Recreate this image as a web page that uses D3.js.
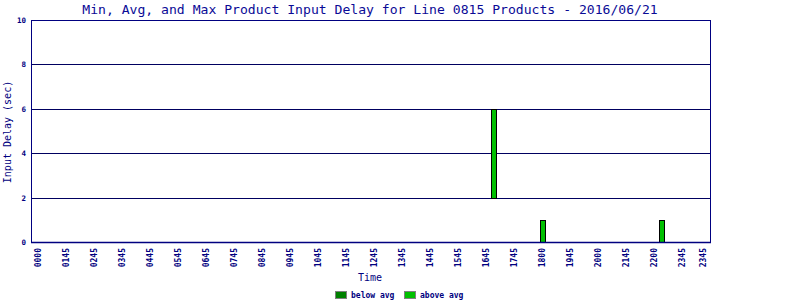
<!DOCTYPE html>
<html>
<head>
<meta charset="utf-8">
<script src="https://cdn.jsdelivr.net/npm/d3@7"></script>
<style>
  html, body { margin: 0; padding: 0; background: #fff; }
  svg { display: block; }
  text { font-family: "DejaVu Sans Mono", "Liberation Mono", monospace; fill: #000080; }
</style>
</head>
<body>
<svg id="chart" width="800" height="300"></svg>
<script>
// ---- data ----
const titleText = "Min, Avg, and Max Product Input Delay for Line 0815 Products - 2016/06/21";
const tickLabels = ["0000","0145","0245","0345","0445","0545","0645","0745","0845","0945",
  "1045","1145","1245","1345","1445","1545","1645","1745","1800","1945","2000","2145","2200","2345","2345"];
const tickHours = [0,1,2,3,4,5,6,7,8,9,10,11,12,13,14,15,16,17,18,19,20,21,22,23,23.75];
const barTimes = ["16:18", "18:02", "22:17"];
const barMin = [2, 0, 0];
const barMax = [6, 1, 1];
const barType = ["above", "above", "above"];
const yTicks = [0, 2, 4, 6, 8, 10];
const legendLabels = ["below avg", "above avg"];
const legendKeys = ["below", "above"];

// ---- layout ----
const W = 800, H = 300;
const plot = { left: 31, right: 710, top: 20, bottom: 242 };
const navy = "#000080";
const colors = { below: "#008000", above: "#00c000" };

const svg = d3.select("#chart");

const toHours = t => { const [h, m] = t.split(":").map(Number); return h + m / 60; };

const x = d3.scaleLinear().domain([0, 24]).range([38, 38 + 24 * 28]);
const y = d3.scaleLinear().domain([0, 10]).range([plot.bottom, plot.top]);

// title
svg.append("text")
  .attr("x", 370)
  .attr("y", 14)
  .attr("text-anchor", "middle")
  .style("font-size", "13.1px")
  .style("fill", "#0a0a96")
  .text(titleText);

// gridlines
svg.append("g").selectAll("line")
  .data(yTicks.filter(d => d > 0 && d < 10))
  .join("line")
  .attr("x1", plot.left).attr("x2", plot.right)
  .attr("y1", d => Math.round(y(d)) + 0.5).attr("y2", d => Math.round(y(d)) + 0.5)
  .attr("stroke", "#000060").attr("stroke-width", 1);

// frame
svg.append("rect")
  .attr("x", plot.left + 0.5).attr("y", plot.top + 0.5)
  .attr("width", plot.right - plot.left).attr("height", plot.bottom - plot.top)
  .attr("fill", "none").attr("stroke", navy).attr("stroke-width", 1);

// y axis labels
const yAxis = d3.axisLeft(y).tickValues(yTicks).tickSize(0).tickPadding(5).tickFormat(d3.format("d"));
const gy = svg.append("g").attr("transform", `translate(${plot.left},0)`).call(yAxis);
gy.select(".domain").remove();
gy.selectAll("text")
  .style("font-size", "7.5px").style("font-weight", "bold")
  .attr("fill", navy).style("fill", navy);

// x axis labels (rotated)
const gx = svg.append("g");
gx.selectAll("text")
  .data(tickHours.map((h, i) => ({ h, label: tickLabels[i] })))
  .join("text")
  .attr("transform", d => `translate(${x(d.h)},248) rotate(-90)`)
  .attr("text-anchor", "end")
  .attr("dy", "0.33em")
  .style("font-size", "8px").style("font-weight", "bold")
  .text(d => d.label);

// bars
const bars = barTimes.map((t, i) => ({ h: toHours(t), min: barMin[i], max: barMax[i], type: barType[i] }));
svg.append("g").selectAll("rect")
  .data(bars)
  .join("rect")
  .attr("x", d => Math.round(x(d.h)) - 3 + 0.5)
  .attr("y", d => Math.round(y(d.max)) + 0.5)
  .attr("width", 5)
  .attr("height", d => Math.round(y(d.min)) - Math.round(y(d.max)))
  .attr("fill", d => colors[d.type])
  .attr("stroke", "#000").attr("stroke-width", 1);

// redraw bottom axis line on top
svg.append("line")
  .attr("x1", plot.left).attr("x2", plot.right + 1)
  .attr("y1", plot.bottom + 0.5).attr("y2", plot.bottom + 0.5)
  .attr("stroke", navy).attr("stroke-width", 1.5);

// axis titles
svg.append("text")
  .attr("transform", `translate(11,132) rotate(-90)`)
  .attr("text-anchor", "middle")
  .style("font-size", "10px")
  .text("Input Delay (sec)");

svg.append("text")
  .attr("x", 370).attr("y", 281)
  .attr("text-anchor", "middle")
  .style("font-size", "10px")
  .text("Time");

// legend
const lg = svg.append("g");
const legendX = [335, 404];
legendKeys.forEach((k, i) => {
  lg.append("rect")
    .attr("x", legendX[i] + 0.5).attr("y", 291.5)
    .attr("width", 11).attr("height", 7)
    .attr("fill", colors[k]).attr("stroke", "#808080").attr("stroke-width", 1);
  lg.append("text")
    .attr("x", legendX[i] + 16).attr("y", 298)
    .style("font-size", "8px").style("font-weight", "bold")
    .text(legendLabels[i]);
});
</script>
</body>
</html>
